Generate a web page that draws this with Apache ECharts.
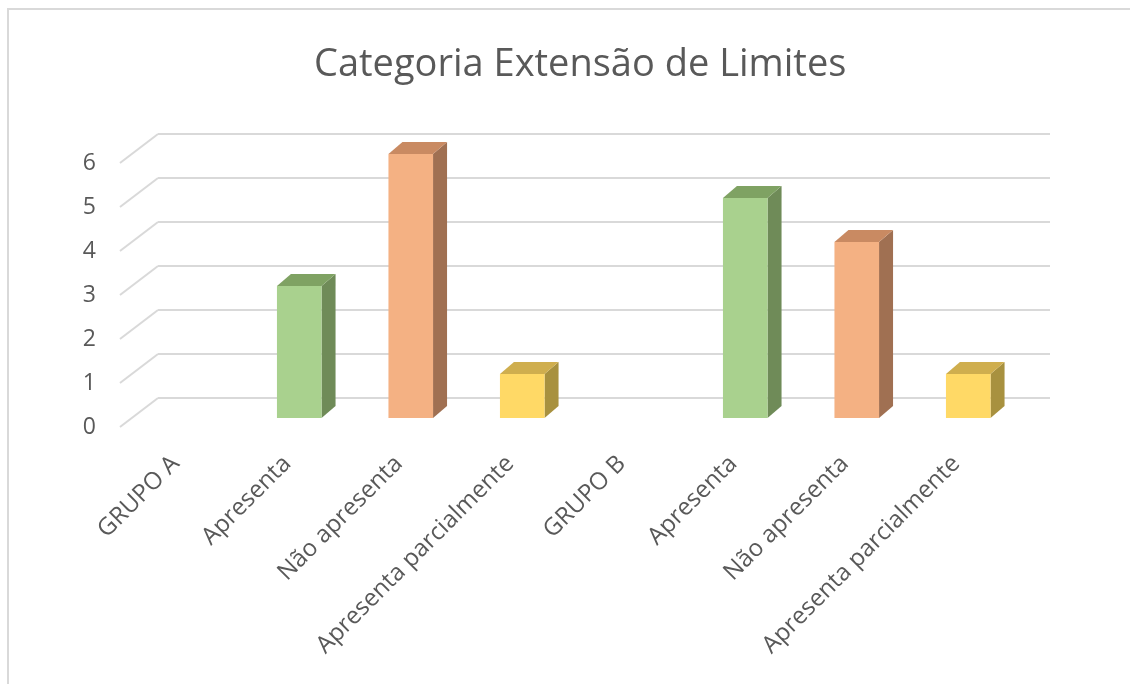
<!DOCTYPE html>
<html>
<head>
<meta charset="utf-8">
<script src="https://cdn.jsdelivr.net/npm/echarts@6/dist/echarts.min.js"></script>
<style>
  html, body { margin: 0; padding: 0; background: #ffffff; }
  #chart { width: 1130px; height: 684px; }
</style>
</head>
<body>
<div id="chart"></div>
<script>
// Categories along the floor, in order
const categories = ['GRUPO A', 'Apresenta', 'Não apresenta', 'Apresenta parcialmente',
                    'GRUPO B', 'Apresenta', 'Não apresenta', 'Apresenta parcialmente'];
// Count per category (group header rows have no bar)
const counts = [null, 3, 6, 1, null, 5, 4, 1];
// Answer type of each category, used to pick its colour
const kinds = [null, 'apresenta', 'nao', 'parcial', null, 'apresenta', 'nao', 'parcial'];
// Value-axis ticks
const valueTicks = [0, 1, 2, 3, 4, 5, 6];

// Face colours of the prisms: front, side, top
const palette = {
  apresenta: ['#A9D18E', '#6F8B58', '#7FA263'],
  nao:       ['#F4B183', '#A07052', '#C98A62'],
  parcial:   ['#FFD966', '#A8913F', '#CFAE4E']
};

const TEXT = '#595959';
const GRID_LINE = '#D9D9D9';
const FONT = '"Open Sans", "Noto Sans", sans-serif';

// Oblique projection: from the back wall to the front edge of the floor
const FLOOR_DX = -38, FLOOR_DY = 29;
// Bars stand partway into the floor; their own depth is drawn up-right
const BAR_DX = -26, BAR_DY = 20;
const DEPTH_DX = 14, DEPTH_DY = -12;

const chart = echarts.init(document.getElementById('chart'), null, { renderer: 'canvas' });

const barData = counts.map((v, i) => [i, v]).filter(d => d[1] != null);

function renderBar(params, api) {
  const i = api.value(0);
  const v = api.value(1);
  const col = palette[kinds[i]];
  const top = api.coord([i, v]);
  const base = api.coord([i, 0]);
  const band = api.size([1, 0])[0];
  const bw = band * 0.4;
  const x0 = top[0] - bw / 2 + BAR_DX;
  const x1 = x0 + bw;
  const yT = top[1] + BAR_DY;
  const yB = base[1] + BAR_DY;
  return {
    type: 'group',
    children: [
      {
        type: 'polygon',
        shape: { points: [[x1, yT], [x1 + DEPTH_DX, yT + DEPTH_DY], [x1 + DEPTH_DX, yB + DEPTH_DY], [x1, yB]] },
        style: { fill: col[1] }
      },
      {
        type: 'polygon',
        shape: { points: [[x0, yT], [x0 + DEPTH_DX, yT + DEPTH_DY], [x1 + DEPTH_DX, yT + DEPTH_DY], [x1, yT]] },
        style: { fill: col[2] }
      },
      {
        type: 'rect',
        shape: { x: x0, y: yT, width: bw, height: yB - yT },
        style: { fill: col[0] }
      }
    ]
  };
}

function renderSideLine(params, api) {
  const v = api.value(0);
  const p = api.coord([0, v]);
  const half = api.size([1, 0])[0] / 2;
  const x = p[0] - half;
  return {
    type: 'line',
    shape: { x1: x, y1: p[1], x2: x + FLOOR_DX, y2: p[1] + FLOOR_DY },
    style: { stroke: GRID_LINE, lineWidth: 2 }
  };
}

const option = {
  backgroundColor: '#ffffff',
  animation: false,
  title: {
    text: 'Categoria Extensão de Limites',
    left: 309,
    top: 41,
    textStyle: { fontFamily: FONT, fontSize: 38, fontWeight: 'normal', color: TEXT }
  },
  graphic: [{
    type: 'rect',
    shape: { x: 8, y: 9, width: 1200, height: 800 },
    style: { fill: 'none', stroke: '#D9D9D9', lineWidth: 2 },
    silent: true
  }],
  grid: [
    // back wall
    { left: 158, top: 134, width: 892, height: 264 },
    // front edge of the floor (carries the labels)
    { left: 120, top: 163, width: 892, height: 264 }
  ],
  xAxis: [
    {
      type: 'category', gridIndex: 0, data: categories,
      axisLine: { show: false }, axisTick: { show: false }, axisLabel: { show: false }
    },
    {
      type: 'category', gridIndex: 1, data: categories,
      axisLine: { show: false }, axisTick: { show: false },
      axisLabel: { interval: 0, rotate: 45, margin: 33, color: TEXT, fontFamily: FONT, fontSize: 24 }
    }
  ],
  yAxis: [
    {
      type: 'value', gridIndex: 0, min: 0, max: 6, interval: 1,
      axisLine: { show: false }, axisTick: { show: false }, axisLabel: { show: false },
      splitLine: { show: true, lineStyle: { color: GRID_LINE, width: 2 } }
    },
    {
      type: 'value', gridIndex: 1, min: 0, max: 6, interval: 1,
      axisLine: { show: false }, axisTick: { show: false }, splitLine: { show: false },
      axisLabel: { margin: 24, color: TEXT, fontFamily: FONT, fontSize: 23,
                   formatter: v => (valueTicks.indexOf(v) >= 0 ? String(v) : '') }
    }
  ],
  series: [
    {
      type: 'custom', xAxisIndex: 0, yAxisIndex: 0,
      data: valueTicks.map(v => [v]),
      encode: { y: 0 },
      renderItem: renderSideLine,
      silent: true, z: 1
    },
    {
      type: 'custom', xAxisIndex: 0, yAxisIndex: 0,
      data: barData,
      encode: { x: 0, y: 1 },
      renderItem: renderBar,
      z: 3
    }
  ]
};

chart.setOption(option);
</script>
</body>
</html>
